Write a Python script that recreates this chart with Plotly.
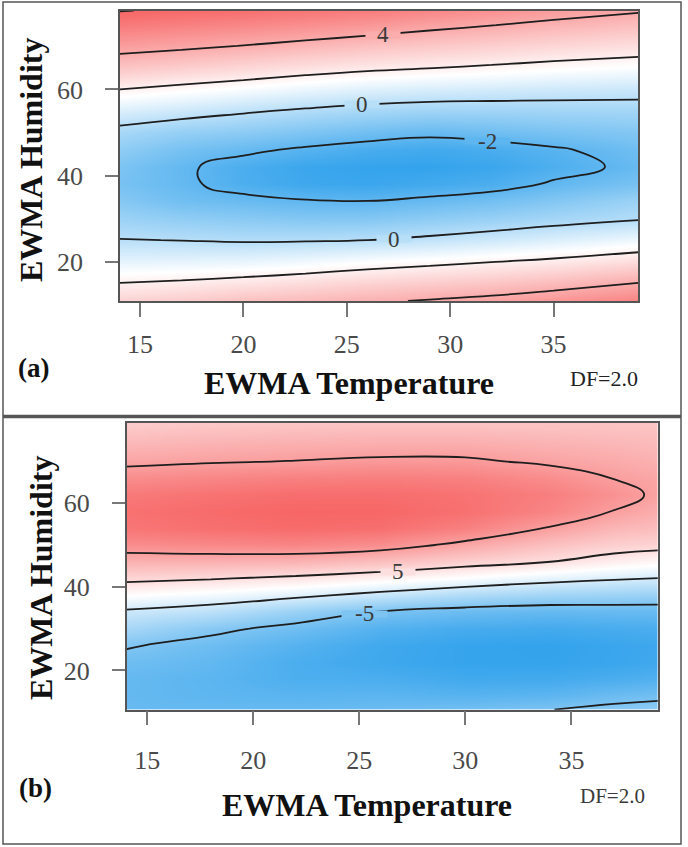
import plotly.graph_objects as go

# ---------------- Panel (a) data: response grid ----------------
temp_a = [14, 17, 20, 23, 26, 29, 32, 35, 39.1]
hum_a = [10.9, 15, 20, 25, 30, 34, 38, 42, 46, 50, 55, 60, 65, 70, 75, 78.3]
z_a = [
    [2.85, 3.05, 3.38, 3.60, 3.85, 4.08, 4.31, 4.64, 5.18],
    [2.02, 2.15, 2.35, 2.59, 2.85, 3.05, 3.26, 3.55, 4.03],
    [1.03, 1.05, 1.10, 1.28, 1.54, 1.75, 1.97, 2.21, 2.62],
    [0.04, -0.02, -0.11, -0.08, 0.00, 0.22, 0.50, 0.80, 1.21],
    [-0.60, -0.85, -1.01, -1.14, -1.14, -0.91, -0.69, -0.41, -0.09],
    [-1.10, -1.55, -1.73, -1.92, -1.98, -1.77, -1.52, -1.15, -0.62],
    [-1.40, -1.82, -2.35, -2.67, -2.75, -2.59, -2.37, -1.89, -1.40],
    [-1.30, -1.84, -2.39, -2.75, -2.88, -2.90, -2.75, -2.34, -1.78],
    [-0.90, -1.45, -1.79, -2.15, -2.44, -2.61, -2.43, -2.12, -1.60],
    [-0.35, -0.75, -0.95, -1.25, -1.54, -1.76, -1.58, -1.37, -1.15],
    [0.77, 0.46, 0.13, -0.15, -0.39, -0.54, -0.53, -0.49, -0.45],
    [2.00, 1.72, 1.45, 1.15, 0.88, 0.73, 0.62, 0.51, 0.41],
    [3.25, 2.98, 2.72, 2.44, 2.20, 2.02, 1.85, 1.67, 1.48],
    [4.41, 4.20, 3.95, 3.68, 3.41, 3.17, 2.96, 2.74, 2.50],
    [5.44, 5.25, 5.05, 4.85, 4.60, 4.30, 4.04, 3.77, 3.46],
    [6.03, 5.90, 5.75, 5.55, 5.35, 5.05, 4.75, 4.43, 4.10],
]
levels_a = [-2, 0, 2, 4, 6]
# contour labels of panel (a): level, temperature, humidity
label_lvl_a = [4, 0, -2, 0]
label_x_a = [26.77, 25.72, 31.81, 27.26]
label_y_a = [72.7, 56.6, 48.0, 25.2]

# ---------------- Panel (b) data ----------------
temp_b = [14, 18, 22, 26, 30, 34, 37, 39.1]
hum_b = [10.6, 14, 18, 22, 26, 30, 34, 38, 42, 46, 50, 54, 58, 62, 66, 70, 74, 79.3]
z_b = [
    [-6.20, -6.31, -6.30, -6.00, -5.60, -5.05, -4.30, -4.00],
    [-6.45, -6.77, -7.00, -6.90, -7.16, -6.87, -6.03, -5.62],
    [-6.38, -6.89, -7.75, -7.85, -8.44, -8.37, -7.90, -7.51],
    [-5.81, -6.54, -7.87, -8.60, -9.10, -9.16, -8.86, -8.52],
    [-4.75, -5.90, -7.25, -8.50, -9.10, -9.23, -8.91, -8.64],
    [-2.53, -4.35, -5.78, -7.34, -8.10, -8.32, -8.04, -7.88],
    [-0.42, -1.32, -3.30, -5.14, -6.01, -6.38, -6.26, -6.23],
    [2.58, 1.75, 0.66, -0.82, -2.17, -3.02, -3.27, -3.42],
    [5.70, 5.20, 4.43, 3.41, 2.24, 0.99, 0.31, -0.08],
    [8.52, 8.53, 8.35, 7.44, 6.17, 5.01, 3.82, 3.15],
    [11.30, 11.66, 11.88, 11.22, 9.32, 7.40, 6.22, 5.90],
    [13.01, 13.49, 13.86, 13.55, 12.18, 9.79, 8.07, 7.50],
    [13.37, 13.88, 14.27, 14.19, 13.45, 11.91, 9.91, 8.70],
    [12.75, 13.26, 13.67, 13.71, 13.27, 12.36, 10.90, 9.58],
    [11.28, 11.83, 12.27, 12.45, 12.24, 11.32, 9.93, 9.30],
    [9.40, 9.78, 10.07, 10.42, 10.38, 9.55, 9.02, 8.50],
    [8.00, 8.42, 8.65, 8.80, 8.80, 8.41, 8.11, 7.80],
    [6.30, 6.60, 6.80, 6.90, 6.90, 6.90, 6.90, 6.90],
]
levels_b = [-5, 0, 5, 10]
label_lvl_b = [5, -5]
label_x_b = [26.84, 25.23]
label_y_b = [43.6, 33.5]

x_ticks = [15, 20, 25, 30, 35]
y_ticks = [20, 40, 60]
panel_tags = ["(a)", "(b)"]
x_title = "EWMA Temperature"
y_title = "EWMA Humidity"
df_text = "DF=2.0"

# ---------------- styling ----------------
W, H = 688, 847
SERIF = "Liberation Serif, Times New Roman, serif"
C_LO, C_MID, C_HI = (52, 163, 236), (255, 255, 255), (247, 102, 102)
CSCALE = [[0.0, "rgb%s" % (C_LO,)], [0.5, "rgb%s" % (C_MID,)], [1.0, "rgb%s" % (C_HI,)]]
LINE_C = "#1e1e1e"


def zrange(z):
    flat = [v for row in z for v in row]
    return min(flat), max(flat)


def color_at(v, zmin, zmax):
    t = (v - zmin) / (zmax - zmin)
    if t <= 0.5:
        a, b, f = C_LO, C_MID, t / 0.5
    else:
        a, b, f = C_MID, C_HI, (t - 0.5) / 0.5
    return "rgb(%d,%d,%d)" % tuple(round(a[i] + (b[i] - a[i]) * f) for i in range(3))


fig = go.Figure()


def add_panel(x, y, z, levels, xa, ya, lab_lvl, lab_x, lab_y):
    zmin, zmax = zrange(z)
    fig.add_trace(go.Contour(
        x=x, y=y, z=z, xaxis=xa, yaxis=ya, colorscale=CSCALE, zmin=zmin, zmax=zmax,
        showscale=False, hoverinfo="skip",
        contours=dict(coloring="heatmap", showlines=False, start=-100, end=100, size=100),
        line=dict(width=0)))
    step = levels[1] - levels[0]
    fig.add_trace(go.Contour(
        x=x, y=y, z=z, xaxis=xa, yaxis=ya, showscale=False, hoverinfo="skip",
        contours=dict(coloring="none", start=levels[0], end=levels[-1], size=step,
                      showlabels=False),
        line=dict(color=LINE_C, width=1.8, smoothing=1.3)))
    for lv, lx, ly in zip(lab_lvl, lab_x, lab_y):
        txt = str(lv)
        # a thin patch in the background colour breaks the line under the label
        fig.add_annotation(
            x=lx, y=ly, xref=xa, yref=ya, text="&nbsp;", showarrow=False,
            width=22 + 11.5 * len(txt), height=6, bgcolor=color_at(lv, zmin, zmax),
            borderpad=0, font=dict(size=3))
        fig.add_annotation(
            x=lx, y=ly, xref=xa, yref=ya, text=txt, showarrow=False,
            font=dict(family=SERIF, size=23, color="#3a3a3a"))


add_panel(temp_a, hum_a, z_a, levels_a, "x", "y", label_lvl_a, label_x_a, label_y_a)
add_panel(temp_b, hum_b, z_b, levels_b, "x2", "y2", label_lvl_b, label_x_b, label_y_b)


def px_x(px):
    return px / W


def px_y(py):
    return 1 - py / H


axis_common = dict(showgrid=False, zeroline=False, showline=True, linecolor="#555",
                   linewidth=1.5, mirror=True, ticks="outside", tickcolor="#777",
                   tickwidth=1.5, tickfont=dict(family=SERIF, size=26, color="#4a4a4a"))

fig.update_layout(
    width=W, height=H, margin=dict(l=0, r=0, t=0, b=0),
    paper_bgcolor="white", plot_bgcolor="white", showlegend=False,
    xaxis=dict(domain=[px_x(120), px_x(638.3)], range=[14.03, 39.1], anchor="y",
               tickvals=x_ticks, ticklen=14, ticklabelstandoff=5, **axis_common),
    yaxis=dict(domain=[px_y(301), px_y(11)], range=[10.88, 78.2], anchor="x",
               tickvals=y_ticks, ticklen=13, ticklabelstandoff=17, **axis_common),
    xaxis2=dict(domain=[px_x(126.7), px_x(657.7)], range=[14.03, 39.07], anchor="y2",
                tickvals=x_ticks, ticklen=14, ticklabelstandoff=12, **axis_common),
    yaxis2=dict(domain=[px_y(709.7), px_y(422.5)], range=[10.6, 79.3], anchor="x2",
                tickvals=y_ticks, ticklen=13, ticklabelstandoff=17, **axis_common),
)

ann = [
    dict(x=33, y=368, text="<b>%s</b>" % panel_tags[0], size=27),
    dict(x=349, y=383, text="<b>%s</b>" % x_title, size=32),
    dict(x=604, y=378, text=df_text, size=22, color="#222"),
    dict(x=31, y=160, text="<b>%s</b>" % y_title, size=32, angle=-90),
    dict(x=35, y=788, text="<b>%s</b>" % panel_tags[1], size=27),
    dict(x=367, y=805, text="<b>%s</b>" % x_title, size=32),
    dict(x=612, y=796, text=df_text, size=21, color="#3a3a3a"),
    dict(x=41, y=578, text="<b>%s</b>" % y_title, size=32, angle=-90),
]
for a in ann:
    fig.add_annotation(xref="paper", yref="paper", x=px_x(a["x"]), y=px_y(a["y"]),
                       text=a["text"], showarrow=False, xanchor="center", yanchor="middle",
                       textangle=a.get("angle", 0),
                       font=dict(family=SERIF, size=a["size"], color=a.get("color", "#111")))

# outer frame and separator
fig.add_shape(type="rect", xref="paper", yref="paper",
              x0=px_x(3), x1=px_x(681), y0=px_y(844), y1=px_y(2),
              line=dict(color="#555", width=1.5))
fig.add_shape(type="line", xref="paper", yref="paper",
              x0=px_x(3), x1=px_x(681), y0=px_y(416.5), y1=px_y(416.5),
              line=dict(color="#555", width=3.5))

fig.write_html("out.html", config={"displayModeBar": False},
               post_script="document.body.style.margin='0px';")
